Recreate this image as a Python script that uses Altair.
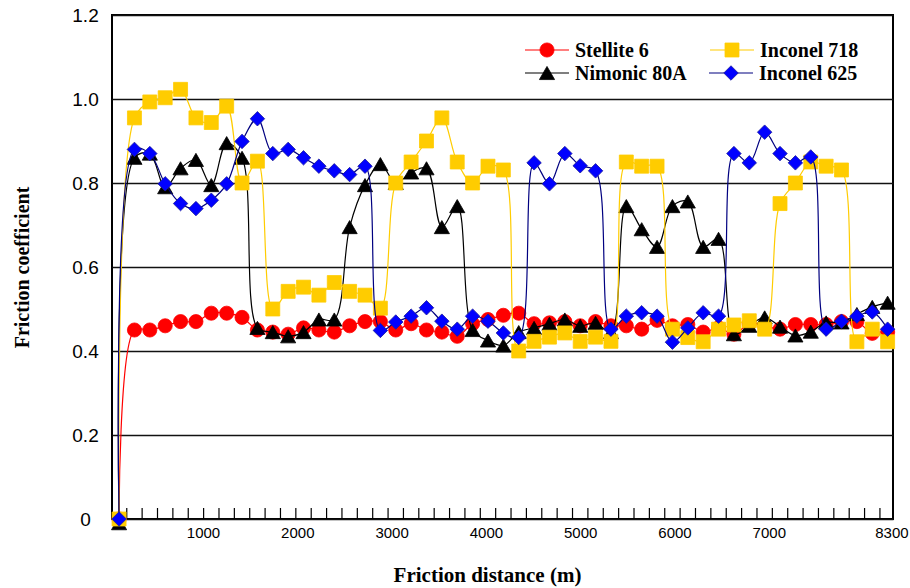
import altair as alt
import pandas as pd

# ---- data (distance positions) ----
distance = [110, 273, 436, 599, 762, 925, 1088, 1251, 1414, 1577,
            1740, 1903, 2066, 2229, 2392, 2555, 2718, 2881, 3044, 3207,
            3370, 3533, 3696, 3859, 4022, 4185, 4348, 4511, 4674, 4837,
            5000, 5163, 5326, 5489, 5652, 5815, 5978, 6141, 6304, 6467,
            6630, 6793, 6956, 7119, 7282, 7445, 7608, 7771, 7934, 8097,
            8260]

stellite6 = [0.0, 0.45, 0.45, 0.46, 0.47, 0.47, 0.49, 0.49, 0.48, 0.45,
             0.445, 0.44, 0.455, 0.45, 0.445, 0.46, 0.47, 0.47, 0.45, 0.465,
             0.45, 0.445, 0.435, 0.465, 0.475, 0.485, 0.49, 0.465, 0.467, 0.47,
             0.46, 0.47, 0.46, 0.46, 0.452, 0.473, 0.46, 0.463, 0.445, 0.455,
             0.44, 0.465, 0.46, 0.452, 0.463, 0.463, 0.463, 0.47, 0.47, 0.442,
             0.445]

nimonic80a = [-0.01, 0.86, 0.87, 0.79, 0.835, 0.855, 0.795, 0.895, 0.86, 0.455,
              0.445, 0.435, 0.445, 0.475, 0.475, 0.695, 0.795, 0.845, 0.80, 0.825,
              0.835, 0.695, 0.745, 0.45, 0.425, 0.413, 0.445, 0.455, 0.465, 0.475,
              0.46, 0.467, 0.445, 0.745, 0.69, 0.648, 0.745, 0.756, 0.648, 0.667,
              0.44, 0.46, 0.48, 0.458, 0.437, 0.446, 0.468, 0.468, 0.488, 0.505,
              0.515]

inconel718 = [0.0, 0.955, 0.993, 1.003, 1.023, 0.955, 0.944, 0.983, 0.80, 0.852,
              0.50, 0.542, 0.552, 0.533, 0.563, 0.542, 0.533, 0.502, 0.80, 0.85,
              0.90, 0.955, 0.85, 0.80, 0.84, 0.831, 0.40, 0.423, 0.433, 0.443,
              0.423, 0.433, 0.423, 0.85, 0.84, 0.84, 0.452, 0.432, 0.422, 0.452,
              0.462, 0.472, 0.452, 0.751, 0.80, 0.85, 0.84, 0.831, 0.422, 0.452,
              0.422]

inconel625 = [0.0, 0.88, 0.87, 0.798, 0.751, 0.739, 0.759, 0.798, 0.899, 0.953,
              0.87, 0.88, 0.86, 0.84, 0.829, 0.82, 0.84, 0.449, 0.469, 0.483,
              0.503, 0.471, 0.452, 0.483, 0.471, 0.443, 0.432, 0.848, 0.798, 0.87,
              0.841, 0.829, 0.452, 0.483, 0.491, 0.483, 0.421, 0.455, 0.491, 0.483,
              0.87, 0.848, 0.921, 0.87, 0.848, 0.862, 0.452, 0.471, 0.483, 0.493,
              0.452]

series_names = ["Stellite 6", "Nimonic 80A", "Inconel 718", "Inconel 625"]
series_values = [stellite6, nimonic80a, inconel718, inconel625]

x_tick_labels = [1000, 2000, 3000, 4000, 5000, 6000, 7000, 8300]
y_tick_values = [0, 0.2, 0.4, 0.6, 0.8, 1.0, 1.2]

# minor category ticks sit midway between sampled distances
minor_ticks = [(distance[i] + distance[i + 1]) / 2 for i in range(len(distance) - 1)]

# ---- styles ----
styles = {
    "Stellite 6": dict(line="#FF0000", fill="#FF0000", stroke="#FF0000", shape="circle", size=200),
    "Nimonic 80A": dict(line="#000000", fill="#000000", stroke="#000000", shape="triangle-up", size=230),
    "Inconel 718": dict(line="#FFCC00", fill="#FFCC00", stroke="#FFCC00", shape="square", size=195),
    "Inconel 625": dict(line="#000080", fill="#0000FF", stroke="#1a1a9a", shape="diamond", size=210),
}

W, H = 781, 504
x_scale = alt.Scale(domain=[35, 8317], nice=False, zero=False)
y_scale = alt.Scale(domain=[0, 1.2], nice=False, zero=False)

x_axis = alt.Axis(values=x_tick_labels, format="d", grid=False, ticks=False, domain=False,
                  labelFont="Liberation Sans", labelFontSize=15,
                  labelColor="#000", labelPadding=6, labelBaseline="top",
                  title="Friction distance (m)", titleFont="Liberation Serif",
                  titleFontWeight="bold", titleFontSize=21, titleColor="#000",
                  titleX=375, titleY=56, titleBaseline="middle", titleAlign="center")
y_axis = alt.Axis(values=y_tick_values, grid=True, gridColor="#111", gridWidth=1.5,
                  ticks=False, domain=False,
                  labelExpr="datum.value == 0 ? '0' : format(datum.value, '.1f')",
                  labelFont="Liberation Sans", labelFontSize=19, labelColor="#000",
                  labelAlign="center", labelBaseline="middle", labelPadding=27,
                  title="Friction  coefficient", titleFont="Liberation Serif",
                  titleFontWeight="bold", titleFontSize=20, titleColor="#000",
                  titleAngle=270, titleX=-90, titleY=252, titleBaseline="middle",
                  titleAlign="center")

rows = []
for name, vals in zip(series_names, series_values):
    for d, v in zip(distance, vals):
        rows.append({"series": name, "distance": d, "value": v})
df = pd.DataFrame(rows)

layers = []
base = alt.Chart(df).mark_point(opacity=0).encode(
    x=alt.X("distance:Q", scale=x_scale, axis=x_axis),
    y=alt.Y("value:Q", scale=y_scale, axis=y_axis),
)
layers.append(base)

ticks_df = pd.DataFrame({"distance": minor_ticks})
ticks = alt.Chart(ticks_df).mark_rule(color="#000", strokeWidth=1.2).encode(
    x=alt.X("distance:Q", scale=x_scale),
    y=alt.value(H),
    y2=alt.value(H - 11),
)
layers.append(ticks)

for name in series_names:
    st = styles[name]
    sdf = df[df["series"] == name]
    line = alt.Chart(sdf).mark_line(color=st["line"], strokeWidth=1.2,
                                    interpolate="catmull-rom", clip=False).encode(
        x=alt.X("distance:Q", scale=x_scale),
        y=alt.Y("value:Q", scale=y_scale),
    )
    pts = alt.Chart(sdf).mark_point(shape=st["shape"], size=st["size"], filled=True,
                                    fill=st["fill"], stroke=st["stroke"], strokeWidth=0.8,
                                    opacity=1, clip=False).encode(
        x=alt.X("distance:Q", scale=x_scale),
        y=alt.Y("value:Q", scale=y_scale),
    )
    layers += [line, pts]

legend_slots = {
    "Stellite 6": (435, 35),
    "Inconel 718": (620, 35),
    "Nimonic 80A": (435, 58),
    "Inconel 625": (619, 58),
}
for name in series_names:
    st = styles[name]
    cx, cy = legend_slots[name]
    ldf = pd.DataFrame({"series": [name]})
    layers.append(alt.Chart(ldf).mark_rule(color=st["line"], strokeWidth=1.2).encode(
        x=alt.value(cx - 22), x2=alt.value(cx + 22), y=alt.value(cy)))
    layers.append(alt.Chart(ldf).mark_point(shape=st["shape"], size=st["size"], filled=True,
                                            fill=st["fill"], stroke=st["stroke"],
                                            strokeWidth=0.8, opacity=1).encode(
        x=alt.value(cx), y=alt.value(cy)))
    layers.append(alt.Chart(ldf).mark_text(align="left", baseline="middle",
                                           font="Liberation Serif", fontWeight="bold",
                                           fontSize=20, color="#000").encode(
        x=alt.value(cx + 28), y=alt.value(cy + 1), text="series:N"))

chart = alt.layer(*layers).properties(
    width=W, height=H,
    autosize=alt.AutoSizeParams(type="none"),
    padding={"left": 112, "top": 15, "right": 17, "bottom": 69},
    background="white",
).configure_view(stroke="#000", strokeWidth=2)

chart.save("out.html", embed_options={"renderer": "svg", "actions": False})
